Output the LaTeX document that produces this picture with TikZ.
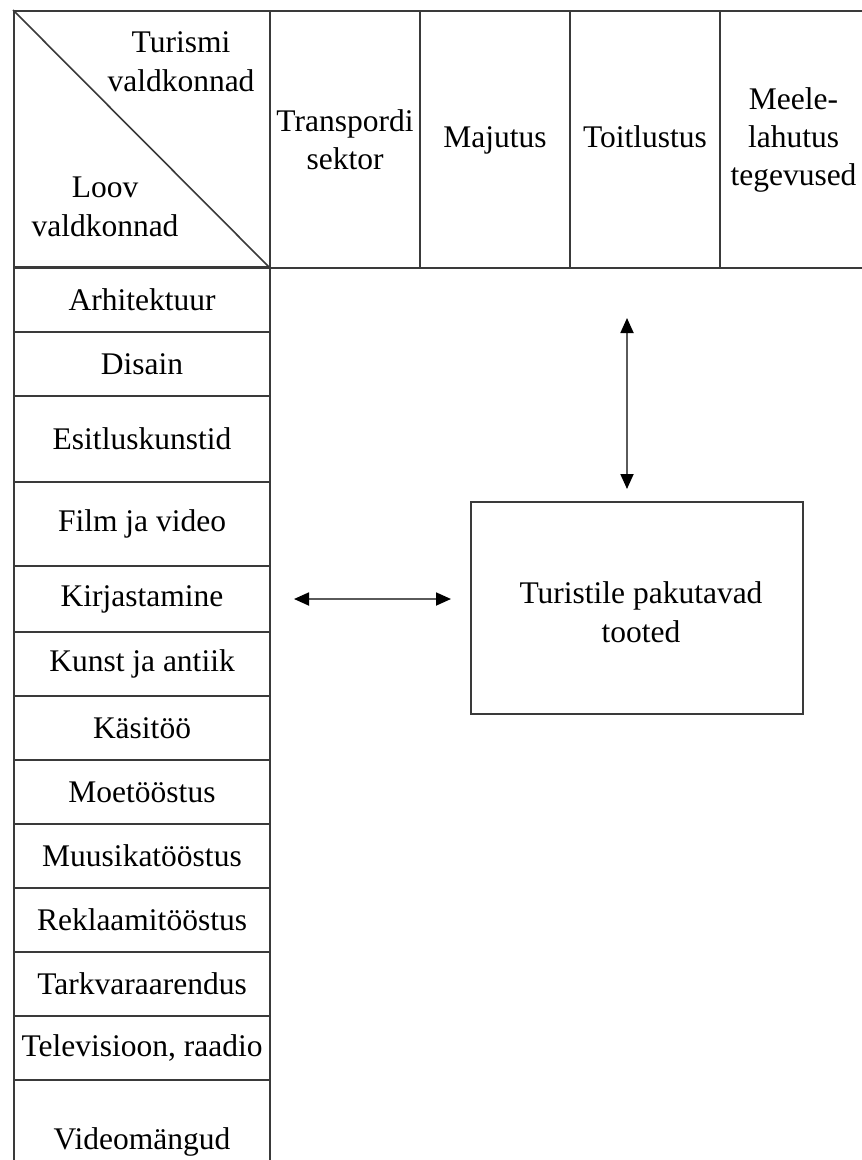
\documentclass[tikz,border=0pt]{standalone}
\usepackage{fontspec}
\setmainfont{Liberation Serif}
\usetikzlibrary{arrows.meta}
\definecolor{rule}{HTML}{3A3A3A}
\definecolor{shaft}{HTML}{5A5A5A}
\newcommand{\cellfont}{\fontsize{31.5}{38}\selectfont}
\newcommand{\widefont}{\fontsize{31.5}{39}\selectfont}
\tikzset{
  cell/.style={draw=rule, line width=2pt, inner sep=0pt, align=center,
    font=\cellfont, anchor=north west},
  label/.style={inner sep=0pt, align=center, font=\widefont},
  arr/.style={draw=shaft, line width=1.8pt,
    {Triangle[length=15pt,width=13pt,color=black]}-{Triangle[length=15pt,width=13pt,color=black]}}
}
\begin{document}
\begin{tikzpicture}[x=1pt,y=-1pt]
\clip (0,0) rectangle (862,1160);
\fill[white] (0,0) rectangle (862,1160);

% header row: split corner cell and the four tourism sectors
\node[cell, minimum width=256pt, minimum height=257pt] (corner) at (13,10) {};
\draw[rule, line width=1.6pt] (corner.north west) -- (corner.south east);
\node[label] (tur) at (181,62) {Turismi\\valdkonnad};
\node[label] (loov) at (105,207) {Loov\\valdkonnad};

\node[cell, minimum width=150pt, minimum height=257pt] (transp) at (269,10) {Transpordi\\sektor};
\node[cell, minimum width=150pt, minimum height=257pt] (maj) at (419,10) {\strut Majutus};
\node[cell, minimum width=150pt, minimum height=257pt] (toit) at (569,10) {\strut Toitlustus};
\node[cell, minimum width=147pt, minimum height=257pt] (meel) at (719,10) {Meele-\\lahutus\\tegevused};

% creative fields column
\node[cell, minimum width=256pt, minimum height=65pt] (arh)  at (13,266) {Arhitektuur};
\node[cell, minimum width=256pt, minimum height=64pt] (dis)  at (13,331) {Disain};
\node[cell, minimum width=256pt, minimum height=86pt] (esit) at (13,395) {Esitluskunstid};
\node[cell, minimum width=256pt, minimum height=84pt] (film) at (13,481) {Film ja video};
\node[cell, minimum width=256pt, minimum height=66pt] (kirj) at (13,565) {Kirjastamine};
\node[cell, minimum width=256pt, minimum height=64pt] (kuns) at (13,631) {Kunst ja antiik};
\node[cell, minimum width=256pt, minimum height=64pt] (kasi) at (13,695) {Käsitöö};
\node[cell, minimum width=256pt, minimum height=64pt] (moe)  at (13,759) {Moetööstus};
\node[cell, minimum width=256pt, minimum height=64pt] (muus) at (13,823) {Muusikatööstus};
\node[cell, minimum width=256pt, minimum height=64pt] (rekl) at (13,887) {Reklaamitööstus};
\node[cell, minimum width=256pt, minimum height=64pt] (tark) at (13,951) {Tarkvaraarendus};
\node[cell, minimum width=256pt, minimum height=64pt] (tele) at (13,1015) {Televisioon, raadio};
\node[cell, minimum width=256pt, minimum height=124pt] (vide) at (13,1079) {Videomängud};

% tourist products box
\node[cell, anchor=center, minimum width=332pt, minimum height=212pt] (box) at (637,608) {};
\node[label] (boxtext) at (641,612) {Turistile pakutavad\\tooted};

% links
\coordinate (vtop) at (627,318);
\draw[arr, shorten >=12pt] (vtop) -- (vtop |- box.north);
\draw[arr, shorten <=23pt, shorten >=19pt] (kirj.east) -- (kirj.east -| box.west);
\end{tikzpicture}
\end{document}
